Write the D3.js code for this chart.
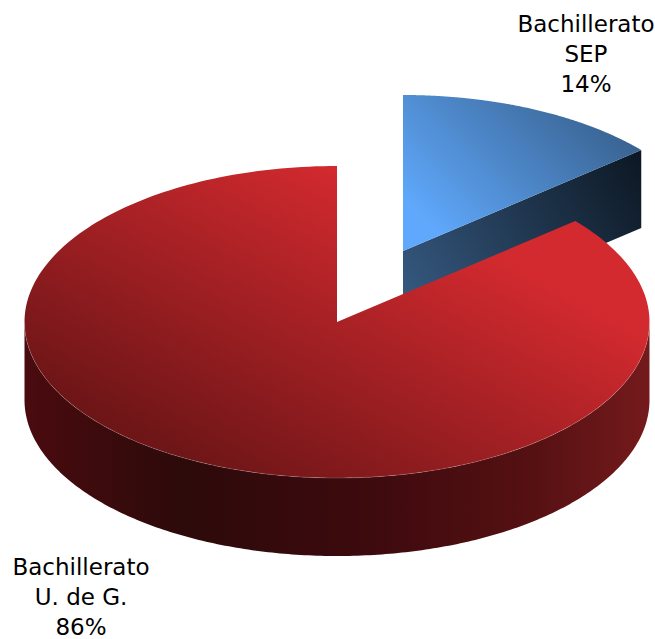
<!DOCTYPE html>
<html>
<head>
<meta charset="utf-8">
<script src="https://cdn.jsdelivr.net/npm/d3@7"></script>
<style>
  html, body { margin: 0; padding: 0; background: #fff; }
  svg { display: block; }
</style>
</head>
<body>
<script>
// Chart values, clockwise from 12 o'clock
var categories = ['Bachillerato SEP', 'Bachillerato U. de G.'],
  values = [13.8, 86.2],
  labelLines = [['Bachillerato', 'SEP', '14%'], ['Bachillerato', 'U. de G.', '86%']];

var width = 655,
  height = 639,
  rx = 312.5,
  ry = 156,
  depth = 78,
  // the small slice is pulled out of the pie
  centers = [{x: 403, y: 251}, {x: 337, y: 322}],
  labelPos = [{x: 586, y: 32}, {x: 81, y: 575}],
  fontSize = 23,
  lineStep = 30;

var svg = d3.select('body').append('svg')
  .attr('width', width)
  .attr('height', height);

var defs = svg.append('defs');

function addGradient(id, x1, y1, x2, y2, stops) {
  var g = defs.append('linearGradient')
    .attr('id', id)
    .attr('gradientUnits', 'userSpaceOnUse')
    .attr('x1', x1).attr('y1', y1)
    .attr('x2', x2).attr('y2', y2);
  stops.forEach(function(s) {
    g.append('stop').attr('offset', s[0]).attr('stop-color', s[1]);
  });
}

addGradient('blueTop', 445, 240, 600, 85, [[0, '#5fa8fb'], [1, '#365d88']]);
addGradient('blueCut', 403, 290, 641, 150, [[0, '#35587f'], [1, '#0c1722']]);
addGradient('redTop', 178, 460, 337, 166, [[0, '#6d1517'], [1, '#d32a2f']]);
addGradient('redWall', 24, 400, 650, 400, [
  [0, '#4a0b0f'], [0.25, '#2d0a0a'], [0.55, '#3d0a0e'], [0.8, '#541012'], [1, '#741a1c']
]);

var pie = d3.pie().sort(null).startAngle(0).endAngle(2 * Math.PI);
var slices = pie(values);

var line = d3.line().x(function(p) { return p[0]; }).y(function(p) { return p[1]; });

// Pixel position on the tilted rim, angle measured clockwise from the top
function rim(center, a, drop) {
  var sx = d3.scaleLinear().domain([-1, 1]).range([center.x - rx, center.x + rx]);
  var sy = d3.scaleLinear().domain([-1, 1]).range([center.y - ry + drop, center.y + ry + drop]);
  return [sx(Math.sin(a)), sy(-Math.cos(a))];
}

function rimPoints(center, a0, a1, drop) {
  var n = 240;
  return d3.range(n + 1).map(function(i) {
    return rim(center, a0 + (a1 - a0) * i / n, drop);
  });
}

function topPath(d, center) {
  var pts = rimPoints(center, d.startAngle, d.endAngle, 0);
  pts.push([center.x, center.y]);
  return line(pts) + 'Z';
}

function wallPath(center, a0, a1) {
  var up = rimPoints(center, a0, a1, 0);
  var down = rimPoints(center, a0, a1, depth).reverse();
  return line(up.concat(down)) + 'Z';
}

// Blue slice: cut face along its end angle, then top
var blueEnd = rim(centers[0], slices[0].endAngle, 0);
svg.append('path')
  .attr('d', line([
    [centers[0].x, centers[0].y], blueEnd,
    [blueEnd[0], blueEnd[1] + depth], [centers[0].x, centers[0].y + depth]
  ]) + 'Z')
  .attr('fill', 'url(#blueCut)');
svg.append('path')
  .attr('d', topPath(slices[0], centers[0]))
  .attr('fill', 'url(#blueTop)');

// Red slice: front wall between 3 and 9 o'clock, then top
svg.append('path')
  .attr('d', wallPath(centers[1], Math.PI / 2, 3 * Math.PI / 2))
  .attr('fill', 'url(#redWall)');
svg.append('path')
  .attr('d', topPath(slices[1], centers[1]))
  .attr('fill', 'url(#redTop)');

// faint light seam where the top meets the wall
svg.append('path')
  .attr('d', line(rimPoints(centers[1], Math.PI / 2, 3 * Math.PI / 2, 0)))
  .attr('fill', 'none')
  .attr('stroke', '#fff')
  .attr('stroke-opacity', 0.25)
  .attr('stroke-width', 0.6);

// Labels
labelLines.forEach(function(lines, i) {
  var t = svg.append('text')
    .attr('text-anchor', 'middle')
    .style('font-family', 'DejaVu Sans, Verdana, sans-serif')
    .style('font-size', fontSize + 'px')
    .attr('fill', '#000');
  lines.forEach(function(s, j) {
    t.append('tspan')
      .attr('x', labelPos[i].x)
      .attr('y', labelPos[i].y + j * lineStep)
      .text(s);
  });
});
</script>
</body>
</html>
